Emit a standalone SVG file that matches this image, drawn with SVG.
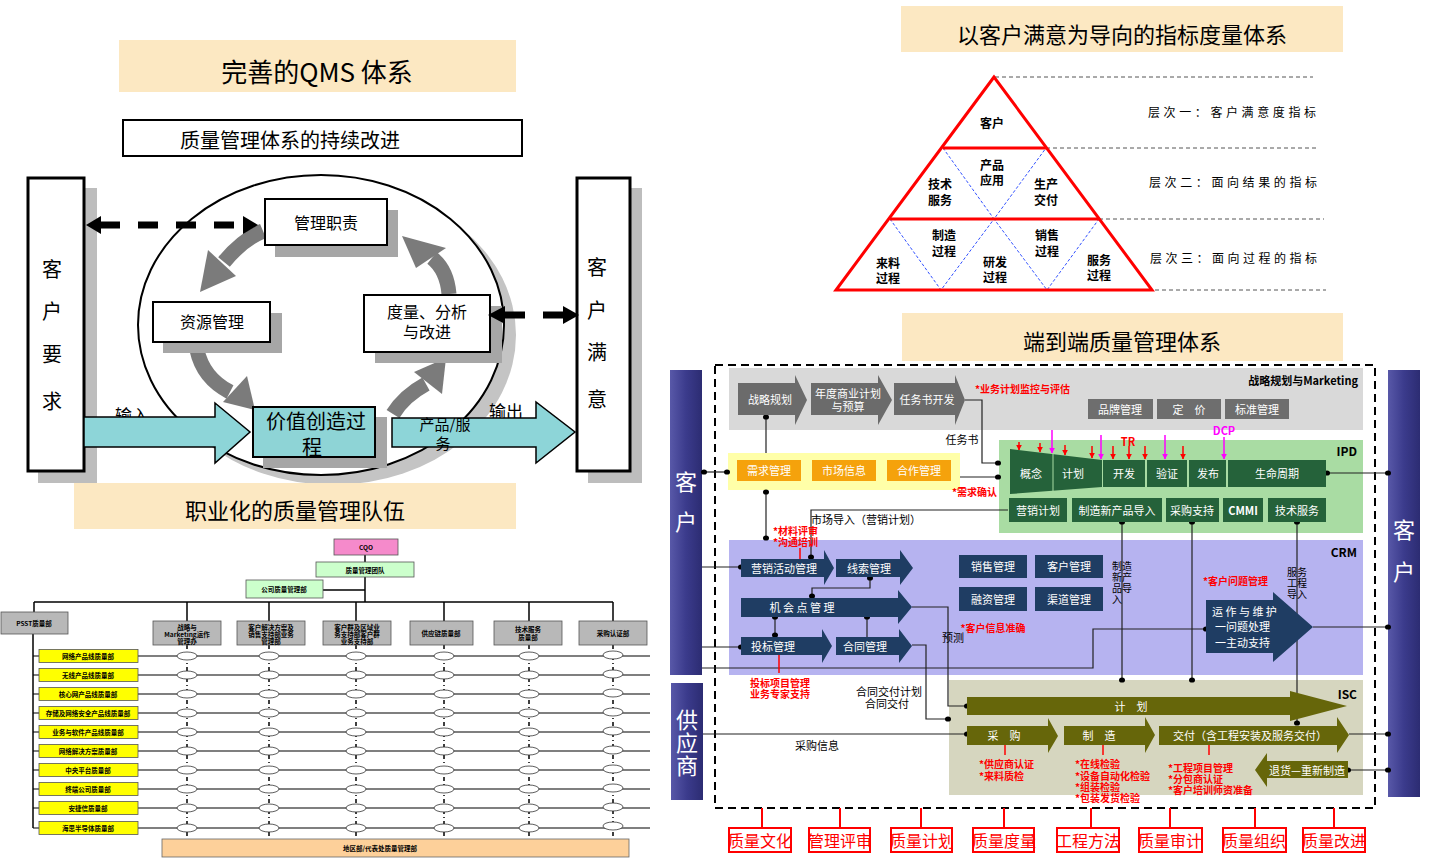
<svg xmlns="http://www.w3.org/2000/svg" width="1431" height="862" viewBox="0 0 1431 862">
<defs>
<style>
text{font-family:"Noto Sans CJK SC","Noto Sans",sans-serif;fill:#000;}
.c{text-anchor:middle;dominant-baseline:central;}
.l{dominant-baseline:central;}
.e{text-anchor:end;dominant-baseline:central;}
.beige{fill:#fce8c2;}
.w{fill:#fff;}
.red{fill:#ff0000;font-weight:bold;font-size:10px;}
.ln{stroke:#222;stroke-width:1.2;fill:none;}
.gch{fill:#6b6b6b;}
.gbx{fill:#6e6e6e;}
.org{fill:#f5a20c;}
.dg{fill:#25623a;}
.nv{fill:#1f3d63;}
.ol{fill:#66660a;}
.yb{fill:#ffff00;stroke:#555;stroke-width:0.8;}
.hb{fill:#b8b8b8;stroke:#555;stroke-width:0.8;}
.ot{font-size:6.5px;font-weight:bold;}
.ht{font-size:6.5px;font-weight:bold;}
.pt{font-size:12px;font-weight:bold;}
.bt{font-size:11px;fill:#fff;}
.vt{font-size:10px;}
.qb{fill:#fff;stroke:#ff0000;stroke-width:2;}
.qt{font-size:16px;fill:#ff0000;}
.shadow{fill:#a6a6a6;}
.carrow{fill:none;stroke:#7b7b7b;stroke-width:15;}
.chead{fill:#7b7b7b;}
</style>
<linearGradient id="bar" x1="0" x2="1" y1="0" y2="0">
<stop offset="0" stop-color="#5858a8"/><stop offset="0.5" stop-color="#3b3b8c"/><stop offset="1" stop-color="#2c2c72"/>
</linearGradient>
<ellipse id="d" rx="3" ry="2.6" fill="#000"/>
<ellipse id="oe" rx="10" ry="4" fill="#fff" stroke="#333" stroke-width="0.8"/>
<marker id="mr" viewBox="0 0 10 10" refX="9" refY="5" markerWidth="4" markerHeight="4" orient="auto"><path d="M0,0 L10,5 L0,10 z" fill="#ff0000"/></marker>
<marker id="mm" viewBox="0 0 10 10" refX="9" refY="5" markerWidth="4" markerHeight="4" orient="auto"><path d="M0,0 L10,5 L0,10 z" fill="#ff00ff"/></marker>
</defs>
<rect width="1431" height="862" fill="#fff"/>

<!-- ================= TOP LEFT: QMS ================= -->
<g id="qms-title"><rect x="119" y="40" width="397" height="52" class="beige"/><text x="317" y="70" class="c" font-size="26">完善的QMS 体系</text></g>
<g id="qms-sub"><rect x="123" y="120" width="399" height="36" fill="#fff" stroke="#000" stroke-width="2"/><text x="290" y="139" class="c" font-size="20">质量管理体系的持续改进</text></g>

<g id="loop-ellipse">
<ellipse cx="333" cy="335" rx="183" ry="150" fill="#c4c4c4"/>
<ellipse cx="321" cy="325" rx="183" ry="150" fill="#fff" stroke="#000" stroke-width="2"/>
</g>

<g id="cust-req">
<rect x="38" y="188" width="59" height="295" fill="#bdbdbd"/>
<rect x="28" y="178" width="56" height="293" fill="#fff" stroke="#000" stroke-width="3"/>
<text x="52" y="268" class="c" font-size="20">客</text><text x="52" y="310" class="c" font-size="20">户</text><text x="52" y="353" class="c" font-size="20">要</text><text x="52" y="400" class="c" font-size="20">求</text>
</g>
<g id="cust-sat">
<rect x="588" y="188" width="54" height="295" fill="#bdbdbd"/>
<rect x="577" y="178" width="53" height="293" fill="#fff" stroke="#000" stroke-width="3"/>
<text x="597" y="266" class="c" font-size="20">客</text><text x="597" y="309" class="c" font-size="20">户</text><text x="597" y="351" class="c" font-size="20">满</text><text x="597" y="398" class="c" font-size="20">意</text>
</g>

<g id="loop-arrows">
<path class="carrow" d="M263,231 Q242,240 224,262"/><polygon class="chead" points="208,250 236,276 200,292"/>
<path class="carrow" d="M197,350 Q203,378 230,392"/><polygon class="chead" points="247,376 223,402 255,410"/>
<path class="carrow" d="M393,414 Q404,396 426,384"/><polygon class="chead" points="442,394 414,372 446,358"/>
<path class="carrow" d="M449,294 Q447,270 432,258"/><polygon class="chead" points="446,248 416,268 402,236"/>
</g>

<g id="mgmt-resp"><rect x="275" y="210" width="123" height="47" class="shadow"/><rect x="265" y="199" width="122" height="46" fill="#fff" stroke="#000" stroke-width="2"/><text x="326" y="222" class="c" font-size="16">管理职责</text></g>
<g id="res-mgmt"><rect x="163" y="313" width="119" height="40" class="shadow"/><rect x="153" y="302" width="117" height="40" fill="#fff" stroke="#000" stroke-width="2"/><text x="212" y="321" class="c" font-size="16">资源管理</text></g>
<g id="measure"><rect x="375" y="306" width="127" height="57" class="shadow"/><rect x="364" y="295" width="126" height="57" fill="#fff" stroke="#000" stroke-width="2"/><text class="c" font-size="16"><tspan x="427" y="311">度量、分析</tspan><tspan x="427" y="331">与改进</tspan></text></g>

<g id="io-arrows">
<text x="132" y="414" class="c" font-size="17">输入</text>
<text x="506" y="410" class="c" font-size="17">输出</text>
<polygon points="84,417 215,417 215,403 250,432 215,463 215,447 84,447" fill="#8dd5d8" stroke="#000" stroke-width="1.5"/>
<polygon points="392,418 536,418 536,402 575,432 536,463 536,447 392,447" fill="#8dd5d8" stroke="#000" stroke-width="1.5"/>
<text class="c" font-size="15"><tspan x="445" y="423">产品/服</tspan><tspan x="443" y="442">务</tspan></text>
</g>
<g id="value-proc"><rect x="263" y="417" width="124" height="51" class="shadow"/><rect x="253" y="407" width="122" height="50" fill="#8ed4d6" stroke="#000" stroke-width="2"/><text class="c" font-size="20"><tspan x="316" y="420">价值创造过</tspan><tspan x="312" y="446">程</tspan></text></g>

<g id="dashed-arrows">
<line x1="100" y1="225" x2="243" y2="225" stroke="#000" stroke-width="7" stroke-dasharray="20 18"/>
<polygon points="86,225 101,216 101,234" fill="#000"/><polygon points="258,225 243,216 243,234" fill="#000"/>
<line x1="505" y1="315" x2="563" y2="315" stroke="#000" stroke-width="7" stroke-dasharray="20 18"/>
<polygon points="488,315 505,306 505,324" fill="#000"/><polygon points="579,315 563,306 563,324" fill="#000"/>
</g>

<g id="team-title"><rect x="74" y="483" width="442" height="46" class="beige"/><text x="295" y="509" class="c" font-size="22">职业化的质量管理队伍</text></g>

<!-- ================= BOTTOM LEFT: ORG CHART ================= -->
<g id="org-lines" stroke="#000" fill="none">
<line x1="365" y1="555" x2="365" y2="562" stroke-width="1.5"/>
<line x1="365" y1="577" x2="365" y2="602" stroke-width="1.5"/>
<line x1="323" y1="590" x2="365" y2="590" stroke-width="1.5"/>
<line x1="34" y1="602" x2="613" y2="602" stroke-width="1.5"/>
<line x1="34" y1="602" x2="34" y2="612" stroke-width="1.5"/>
<line x1="187" y1="602" x2="187" y2="621" stroke-width="1.5"/>
<line x1="269" y1="602" x2="269" y2="621" stroke-width="1.5"/>
<line x1="356" y1="602" x2="356" y2="621" stroke-width="1.5"/>
<line x1="444" y1="602" x2="444" y2="621" stroke-width="1.5"/>
<line x1="529" y1="602" x2="529" y2="621" stroke-width="1.5"/>
<line x1="613" y1="602" x2="613" y2="621" stroke-width="1.5"/>
<line x1="33" y1="634" x2="33" y2="828" stroke-width="1.5"/>
<g stroke-width="1.2">
<line x1="33" y1="656" x2="650" y2="656"/><line x1="33" y1="675" x2="650" y2="675"/><line x1="33" y1="694" x2="650" y2="694"/><line x1="33" y1="713" x2="650" y2="713"/><line x1="33" y1="732" x2="650" y2="732"/>
<line x1="33" y1="751" x2="650" y2="751"/><line x1="33" y1="770" x2="650" y2="770"/><line x1="33" y1="789" x2="650" y2="789"/><line x1="33" y1="808" x2="650" y2="808"/><line x1="33" y1="828" x2="650" y2="828"/>
</g>
<g stroke-width="1.5" stroke-dasharray="4 3 1 3">
<line x1="187" y1="645" x2="187" y2="838"/><line x1="269" y1="645" x2="269" y2="838"/><line x1="356" y1="645" x2="356" y2="838"/><line x1="444" y1="645" x2="444" y2="838"/><line x1="529" y1="645" x2="529" y2="838"/><line x1="613" y1="645" x2="613" y2="838"/>
</g>
</g>
<g id="org-ellipses">
<use href="#oe" x="187" y="656"/><use href="#oe" x="187" y="675"/><use href="#oe" x="187" y="694"/><use href="#oe" x="187" y="713"/><use href="#oe" x="187" y="732"/><use href="#oe" x="187" y="751"/><use href="#oe" x="187" y="770"/><use href="#oe" x="187" y="789"/><use href="#oe" x="187" y="808"/><use href="#oe" x="187" y="828"/>
<use href="#oe" x="269" y="656"/><use href="#oe" x="269" y="675"/><use href="#oe" x="269" y="694"/><use href="#oe" x="269" y="713"/><use href="#oe" x="269" y="732"/><use href="#oe" x="269" y="751"/><use href="#oe" x="269" y="770"/><use href="#oe" x="269" y="789"/><use href="#oe" x="269" y="808"/><use href="#oe" x="269" y="828"/>
<use href="#oe" x="356" y="656"/><use href="#oe" x="356" y="675"/><use href="#oe" x="356" y="694"/><use href="#oe" x="356" y="713"/><use href="#oe" x="356" y="732"/><use href="#oe" x="356" y="751"/><use href="#oe" x="356" y="770"/><use href="#oe" x="356" y="789"/><use href="#oe" x="356" y="808"/><use href="#oe" x="356" y="828"/>
<use href="#oe" x="444" y="656"/><use href="#oe" x="444" y="675"/><use href="#oe" x="444" y="694"/><use href="#oe" x="444" y="713"/><use href="#oe" x="444" y="732"/><use href="#oe" x="444" y="751"/><use href="#oe" x="444" y="770"/><use href="#oe" x="444" y="789"/><use href="#oe" x="444" y="808"/><use href="#oe" x="444" y="828"/>
<use href="#oe" x="529" y="656"/><use href="#oe" x="529" y="675"/><use href="#oe" x="529" y="694"/><use href="#oe" x="529" y="713"/><use href="#oe" x="529" y="732"/><use href="#oe" x="529" y="751"/><use href="#oe" x="529" y="770"/><use href="#oe" x="529" y="789"/><use href="#oe" x="529" y="808"/><use href="#oe" x="529" y="828"/>
<use href="#oe" x="613" y="655"/><use href="#oe" x="613" y="674"/><use href="#oe" x="613" y="693"/><use href="#oe" x="613" y="712"/><use href="#oe" x="613" y="731"/><use href="#oe" x="613" y="750"/><use href="#oe" x="613" y="769"/><use href="#oe" x="613" y="788"/><use href="#oe" x="613" y="807"/><use href="#oe" x="613" y="826"/>
</g>
<g id="cqo"><rect x="334" y="539" width="64" height="16" fill="#f58acb" stroke="#555" stroke-width="0.8"/><text x="366" y="547" class="c ot" font-size="7px">CQO</text></g>
<g id="qm-team"><rect x="316" y="562" width="98" height="15" fill="#ccffcc" stroke="#555" stroke-width="0.8"/><text x="365" y="570" class="c ot">质量管理团队</text></g>
<g id="corp-qm"><rect x="246" y="580" width="77" height="18" fill="#ccffcc" stroke="#555" stroke-width="0.8"/><text x="284" y="589" class="c ot">公司质量管理部</text></g>
<g id="psst"><rect x="1" y="612" width="67" height="22" class="hb"/><text x="34" y="623" class="c ot">PSST质量部</text></g>
<g id="h1"><rect x="153" y="621" width="68" height="24" class="hb"/><text class="c ht"><tspan x="187" y="626.5">战略与</tspan><tspan x="187" y="633.5">Marketing运作</tspan><tspan x="187" y="640.5">管理办</tspan></text></g>
<g id="h2"><rect x="237" y="621" width="68" height="24" class="hb"/><text class="c ht"><tspan x="271" y="626.5">客户解决方案及</tspan><tspan x="271" y="633.5">销售支持部业务</tspan><tspan x="271" y="640.5">管理部</tspan></text></g>
<g id="h3"><rect x="323" y="621" width="68" height="24" class="hb"/><text class="c ht"><tspan x="357" y="626.5">客户群及区域业</tspan><tspan x="357" y="633.5">务支持部客户群</tspan><tspan x="357" y="640.5">业务支持部</tspan></text></g>
<g id="h4"><rect x="410" y="621" width="63" height="24" class="hb"/><text x="441" y="633" class="c ht">供应链质量部</text></g>
<g id="h5"><rect x="494" y="621" width="68" height="24" class="hb"/><text class="c ht"><tspan x="528" y="629">技术服务</tspan><tspan x="528" y="637">质量部</tspan></text></g>
<g id="h6"><rect x="579" y="621" width="68" height="24" class="hb"/><text x="613" y="633" class="c ht">采购认证部</text></g>
<g id="y1"><rect x="39" y="649.5" width="99" height="13" class="yb"/><text x="88" y="656" class="c ot">网络产品线质量部</text></g>
<g id="y2"><rect x="39" y="668.5" width="99" height="13" class="yb"/><text x="88" y="675" class="c ot">无线产品线质量部</text></g>
<g id="y3"><rect x="39" y="687.5" width="99" height="13" class="yb"/><text x="88" y="694" class="c ot">核心网产品线质量部</text></g>
<g id="y4"><rect x="39" y="706.5" width="99" height="13" class="yb"/><text x="88" y="713" class="c ot">存储及网络安全产品线质量部</text></g>
<g id="y5"><rect x="39" y="725.5" width="99" height="13" class="yb"/><text x="88" y="732" class="c ot">业务与软件产品线质量部</text></g>
<g id="y6"><rect x="39" y="744.5" width="99" height="13" class="yb"/><text x="88" y="751" class="c ot">网络解决方案质量部</text></g>
<g id="y7"><rect x="39" y="763.5" width="99" height="13" class="yb"/><text x="88" y="770" class="c ot">中央平台质量部</text></g>
<g id="y8"><rect x="39" y="782.5" width="99" height="13" class="yb"/><text x="88" y="789" class="c ot">终端公司质量部</text></g>
<g id="y9"><rect x="39" y="801.5" width="99" height="13" class="yb"/><text x="88" y="808" class="c ot">安捷信质量部</text></g>
<g id="y10"><rect x="39" y="821.5" width="99" height="13" class="yb"/><text x="88" y="828" class="c ot">海思半导体质量部</text></g>
<g id="region-qm"><rect x="162" y="839" width="467" height="18" fill="#fdd09a" stroke="#666" stroke-width="0.8"/><text x="343" y="848" class="l ot">地区部/代表处质量管理部</text></g>

<!-- ================= TOP RIGHT: PYRAMID ================= -->
<g id="pyr-title"><rect x="901" y="6" width="442" height="46" class="beige"/><text x="1122" y="33" class="c" font-size="22">以客户满意为导向的指标度量体系</text></g>
<g id="pyr-lines" fill="none">
<g stroke="#555" stroke-width="1" stroke-dasharray="4 3">
<line x1="995" y1="77" x2="1313" y2="77"/><line x1="1046" y1="148" x2="1319" y2="148"/><line x1="1057" y1="219" x2="1324" y2="219"/><line x1="1057" y1="290" x2="1326" y2="290"/>
</g>
<g stroke="#3050ff" stroke-width="1" stroke-dasharray="3 2">
<polyline points="943,148 994,219 1046,148"/>
<polyline points="890,219 941,290 994,219 1047,290 1099,219"/>
</g>
</g>
<g id="pyramid">
<polygon points="994,77 836,290 1152,290" fill="none" stroke="#ff0000" stroke-width="3"/>
<line x1="943" y1="148" x2="1046" y2="148" stroke="#ff0000" stroke-width="3"/>
<line x1="890" y1="219" x2="1099" y2="219" stroke="#ff0000" stroke-width="3"/>
<text x="992" y="122" class="c pt">客户</text>
<text class="c pt"><tspan x="992" y="164">产品</tspan><tspan x="992" y="179">应用</tspan></text>
<text class="c pt"><tspan x="940" y="183">技术</tspan><tspan x="940" y="199">服务</tspan></text>
<text class="c pt"><tspan x="1046" y="183">生产</tspan><tspan x="1046" y="199">交付</tspan></text>
<text class="c pt"><tspan x="944" y="234">制造</tspan><tspan x="944" y="250">过程</tspan></text>
<text class="c pt"><tspan x="1047" y="234">销售</tspan><tspan x="1047" y="250">过程</tspan></text>
<text class="c pt"><tspan x="888" y="262">来料</tspan><tspan x="888" y="277">过程</tspan></text>
<text class="c pt"><tspan x="995" y="261">研发</tspan><tspan x="995" y="276">过程</tspan></text>
<text class="c pt"><tspan x="1099" y="259">服务</tspan><tspan x="1099" y="274">过程</tspan></text>
</g>
<g id="pyr-labels">
<text x="1148" y="111" class="l" font-size="12" textLength="168" lengthAdjust="spacing">层次一：客户满意度指标</text>
<text x="1149" y="181" class="l" font-size="12" textLength="168" lengthAdjust="spacing">层次二：面向结果的指标</text>
<text x="1150" y="257" class="l" font-size="12" textLength="167" lengthAdjust="spacing">层次三：面向过程的指标</text>
</g>

<!-- ================= RIGHT: END TO END ================= -->
<g id="e2e-title"><rect x="902" y="313" width="441" height="48" class="beige"/><text x="1122" y="340" class="c" font-size="22">端到端质量管理体系</text></g>

<g id="bands">
<rect x="715" y="365" width="660" height="443" fill="none" stroke="#000" stroke-width="2" stroke-dasharray="8 5"/>
<rect x="729" y="368" width="634" height="62" fill="#d9d9d9"/>
<rect x="728" y="453" width="232" height="37" fill="#ffffa8"/>
<rect x="999" y="440" width="364" height="93" fill="#a9dca3"/>
<rect x="729" y="540" width="634" height="135" fill="#b6b3f0"/>
<rect x="949" y="680" width="414" height="115" fill="#d6d6bf"/>
<text x="1358" y="380" class="e" font-size="11" font-weight="bold">战略规划与Marketing</text>
<text x="1357" y="450" class="e" font-size="12" font-weight="bold" font-family="Liberation Sans">IPD</text>
<text x="1357" y="551" class="e" font-size="12" font-weight="bold" font-family="Liberation Sans">CRM</text>
<text x="1357" y="693" class="e" font-size="12" font-weight="bold" font-family="Liberation Sans">ISC</text>
</g>

<g id="bar-cust-l"><rect x="670" y="370" width="32" height="305" fill="url(#bar)"/><text x="686" y="480" class="c w" font-size="22">客</text><text x="686" y="520" class="c w" font-size="22">户</text></g>
<g id="bar-supp"><rect x="671" y="683" width="32" height="117" fill="url(#bar)"/><text class="c w" font-size="22"><tspan x="687" y="718">供</tspan><tspan x="687" y="741">应</tspan><tspan x="687" y="764">商</tspan></text></g>
<g id="bar-cust-r"><rect x="1388" y="370" width="32" height="427" fill="url(#bar)"/><text x="1404" y="528" class="c w" font-size="22">客</text><text x="1404" y="570" class="c w" font-size="22">户</text></g>

<g id="connectors">
<g class="ln">
<polyline points="766,417 766,453"/>
<polyline points="965,400 982,400 982,463 998,463"/>
<polyline points="960,477 998,477"/>
<polyline points="702,472 728,472"/>
<polyline points="766,492 766,538"/>
<polyline points="1008,510 811,510 811,557"/>
<polyline points="1326,473 1388,473"/>
<polyline points="1122,522 1122,680"/>
<polyline points="1192,522 1192,680"/>
<polyline points="1297,522 1297,723"/>
<polyline points="702,567 741,567"/>
<polyline points="702,647 741,647"/>
<polyline points="702,668 1093,668 1093,629 1206,629"/>
<polyline points="870,578 870,588 812,588 812,596"/>
<polyline points="775,617 775,635"/>
<polyline points="867,617 867,637"/>
<polyline points="912,607 948,607 948,706 967,706"/>
<polyline points="912,645 926,645 926,719 948,719"/>
<polyline points="1313,627 1388,627"/>
<polyline points="703,734 967,734"/>
<polyline points="1349,734 1388,734"/>
<polyline points="1348,770 1388,770"/>
</g>
<g>
<use href="#d" x="766" y="417"/><use href="#d" x="998" y="463"/><use href="#d" x="998" y="477"/><use href="#d" x="704" y="472"/><use href="#d" x="727" y="472"/>
<use href="#d" x="766" y="492"/><use href="#d" x="766" y="538"/><use href="#d" x="811" y="557"/>
<use href="#d" x="1327" y="473"/><use href="#d" x="1388" y="473"/>
<use href="#d" x="1122" y="522"/><use href="#d" x="1122" y="680"/><use href="#d" x="1192" y="522"/><use href="#d" x="1192" y="680"/><use href="#d" x="1297" y="522"/><use href="#d" x="1297" y="723"/>
<use href="#d" x="741" y="567"/><use href="#d" x="741" y="647"/><use href="#d" x="1206" y="629"/>
<use href="#d" x="870" y="578"/><use href="#d" x="812" y="596"/><use href="#d" x="775" y="617"/><use href="#d" x="775" y="635"/><use href="#d" x="867" y="617"/>
<use href="#d" x="967" y="706"/><use href="#d" x="948" y="719"/><use href="#d" x="1388" y="627"/>
<use href="#d" x="967" y="734"/><use href="#d" x="1388" y="734"/><use href="#d" x="1348" y="770"/><use href="#d" x="1388" y="770"/>
</g>
<g stroke="#ff0000" stroke-width="1.5">
<line x1="800" y1="548" x2="800" y2="559"/><line x1="779" y1="655" x2="779" y2="673"/>
<line x1="1005" y1="745" x2="1005" y2="755"/><line x1="1103" y1="745" x2="1103" y2="755"/><line x1="1209" y1="745" x2="1209" y2="755"/>
</g>
<g stroke="#ff0000" stroke-width="1.5" marker-end="url(#mr)">
<line x1="1019" y1="442" x2="1019" y2="450"/><line x1="1040" y1="443" x2="1040" y2="452"/><line x1="1065" y1="445" x2="1065" y2="455"/><line x1="1092" y1="446" x2="1092" y2="458"/>
<line x1="1113" y1="446" x2="1113" y2="459"/><line x1="1129" y1="446" x2="1129" y2="459"/><line x1="1145" y1="446" x2="1145" y2="459"/><line x1="1183" y1="446" x2="1183" y2="459"/>
</g>
<g stroke="#ff00ff" stroke-width="1.5" marker-end="url(#mm)">
<line x1="1052" y1="430" x2="1052" y2="453"/><line x1="1101" y1="435" x2="1101" y2="459"/><line x1="1165" y1="435" x2="1165" y2="459"/><line x1="1224" y1="437" x2="1224" y2="459"/>
</g>
<g stroke="#ff0000" stroke-width="2">
<line x1="762" y1="808" x2="762" y2="828"/><line x1="840" y1="808" x2="840" y2="828"/><line x1="921" y1="808" x2="921" y2="828"/><line x1="1004" y1="808" x2="1004" y2="828"/>
<line x1="1091" y1="808" x2="1091" y2="828"/><line x1="1170" y1="808" x2="1170" y2="828"/><line x1="1255" y1="808" x2="1255" y2="828"/><line x1="1334" y1="808" x2="1334" y2="828"/>
</g>
</g>

<g id="strategy">
<polygon class="gch" points="738,383 795,383 795,375 807,400 795,425 795,415 738,415"/><text x="770" y="399" class="c bt">战略规划</text>
<polygon class="gch" points="811,383 878,383 878,375 892,400 878,425 878,415 811,415"/><text class="c bt"><tspan x="848" y="393">年度商业计划</tspan><tspan x="848" y="406">与预算</tspan></text>
<polygon class="gch" points="894,383 955,383 955,375 965,400 955,425 955,415 894,415"/><text x="927" y="399" class="c bt">任务书开发</text>
<text x="975" y="388" class="l red">*业务计划监控与评估</text>
<rect x="1088" y="399" width="65" height="20" class="gbx"/><text x="1120" y="409" class="c bt">品牌管理</text>
<rect x="1157" y="399" width="64" height="20" class="gbx"/><text x="1189" y="409" class="c bt">定　价</text>
<rect x="1225" y="399" width="64" height="20" class="gbx"/><text x="1257" y="409" class="c bt">标准管理</text>
</g>

<g id="demand">
<rect x="737" y="460" width="64" height="21" class="org"/><text x="769" y="470" class="c bt">需求管理</text>
<rect x="812" y="460" width="64" height="21" class="org"/><text x="844" y="470" class="c bt">市场信息</text>
<rect x="887" y="460" width="64" height="21" class="org"/><text x="919" y="470" class="c bt">合作管理</text>
<text x="962" y="439" class="c" font-size="11">任务书</text>
<text x="952" y="491" class="l red">*需求确认</text>
<text class="l red"><tspan x="773" y="530">*材料评审</tspan><tspan x="773" y="541">*沟通培训</tspan></text>
<text x="866" y="519" class="c" font-size="11">市场导入（营销计划）</text>
</g>

<g id="ipd">
<polygon class="dg" points="1010,449 1102,460 1102,487 1010,494"/>
<line x1="1053" y1="453" x2="1053" y2="491" stroke="#a9dca3" stroke-width="1"/>
<text x="1031" y="473" class="c bt">概念</text><text x="1073" y="473" class="c bt">计划</text>
<rect x="1103" y="460" width="42" height="27" class="dg"/><text x="1124" y="473" class="c bt">开发</text>
<rect x="1147" y="460" width="40" height="27" class="dg"/><text x="1167" y="473" class="c bt">验证</text>
<rect x="1189" y="460" width="37" height="27" class="dg"/><text x="1208" y="473" class="c bt">发布</text>
<rect x="1228" y="460" width="98" height="27" class="dg"/><text x="1277" y="473" class="c bt">生命周期</text>
<rect x="1009" y="498" width="58" height="24" class="dg"/><text x="1038" y="510" class="c bt">营销计划</text>
<rect x="1072" y="498" width="90" height="24" class="dg"/><text x="1117" y="510" class="c bt">制造新产品导入</text>
<rect x="1166" y="498" width="53" height="24" class="dg"/><text x="1192" y="510" class="c bt">采购支持</text>
<rect x="1223" y="498" width="40" height="24" class="dg"/><text x="1243" y="510" class="c bt" font-family="Liberation Sans" font-weight="bold">CMMI</text>
<rect x="1268" y="498" width="58" height="24" class="dg"/><text x="1297" y="510" class="c bt">技术服务</text>
<text x="1128" y="441" class="c" font-size="11" font-weight="bold" font-family="Liberation Sans" style="fill:#ff0000">TR</text>
<text x="1224" y="430" class="c" font-size="11" font-weight="bold" font-family="Liberation Sans" style="fill:#ff00ff">DCP</text>
</g>

<g id="crm">
<polygon class="nv" points="741,559 824,559 824,550 834,568 824,585 824,577 741,577"/><text x="784" y="568" class="c bt">营销活动管理</text>
<polygon class="nv" points="836,559 900,559 900,550 913,568 900,585 900,577 836,577"/><text x="869" y="568" class="c bt">线索管理</text>
<polygon class="nv" points="741,598 898,598 898,590 912,607 898,624 898,617 741,617"/><text x="802" y="607" class="c bt">机 会 点 管 理</text>
<polygon class="nv" points="741,637 822,637 822,629 832,646 822,663 822,655 741,655"/><text x="773" y="646" class="c bt">投标管理</text>
<polygon class="nv" points="836,637 899,637 899,629 912,646 899,663 899,655 836,655"/><text x="865" y="646" class="c bt">合同管理</text>
<rect x="959" y="555" width="68" height="23" class="nv"/><text x="993" y="566" class="c bt">销售管理</text>
<rect x="1035" y="555" width="68" height="23" class="nv"/><text x="1069" y="566" class="c bt">客户管理</text>
<rect x="959" y="587" width="68" height="24" class="nv"/><text x="993" y="599" class="c bt">融资管理</text>
<rect x="1035" y="587" width="68" height="24" class="nv"/><text x="1069" y="599" class="c bt">渠道管理</text>
<text class="l vt"><tspan x="1112" y="565">制造</tspan><tspan x="1112" y="576">新产</tspan><tspan x="1112" y="587">品导</tspan><tspan x="1112" y="598">入</tspan></text>
<text class="l vt"><tspan x="1287" y="571">服务</tspan><tspan x="1287" y="582">工程</tspan><tspan x="1287" y="593">导入</tspan></text>
<text x="1203" y="580" class="l red">*客户问题管理</text>
<text x="993" y="627" class="c red">*客户信息准确</text>
<text x="953" y="637" class="c" font-size="11">预测</text>
<polygon class="nv" points="1206,600 1273,600 1273,592 1313,627 1273,662 1273,653 1206,653"/>
<text class="l bt"><tspan x="1212" y="611">运 作 与 维 护</tspan><tspan x="1215" y="626">一问题处理</tspan><tspan x="1215" y="642">一主动支持</tspan></text>
<text class="c red"><tspan x="780" y="682">投标项目管理</tspan><tspan x="780" y="693">业务专家支持</tspan></text>
<text class="c" font-size="11"><tspan x="889" y="691">合同交付计划</tspan><tspan x="887" y="703">合同交付</tspan></text>
</g>

<g id="isc">
<polygon class="ol" points="967,697 1290,697 1290,691 1347,706 1290,721 1290,715 967,715"/><text x="1131" y="706" class="c bt">计　划</text>
<polygon class="ol" points="967,726 1048,726 1048,718 1058,736 1048,753 1048,745 967,745"/><text x="1004" y="735" class="c bt">采　购</text>
<polygon class="ol" points="1064,726 1145,726 1145,717 1155,735 1145,753 1145,745 1064,745"/><text x="1099" y="735" class="c bt">制　造</text>
<polygon class="ol" points="1159,726 1337,726 1337,717 1349,735 1337,753 1337,745 1159,745"/><text x="1250" y="735" class="c bt">交付（含工程安装及服务交付）</text>
<polygon class="ol" points="1348,761 1267,761 1267,753 1255,770 1267,787 1267,778 1348,778"/><text x="1307" y="770" class="c bt">退货—重新制造</text>
<text x="817" y="745" class="c" font-size="11">采购信息</text>
<text class="l red"><tspan x="979" y="763">*供应商认证</tspan><tspan x="979" y="775">*来料质检</tspan></text>
<text class="l red"><tspan x="1075" y="763">*在线检验</tspan><tspan x="1075" y="775">*设备自动化检验</tspan><tspan x="1075" y="786">*组装检验</tspan><tspan x="1075" y="797">*包装发货检验</tspan></text>
<text class="l red"><tspan x="1168" y="767">*工程项目管理</tspan><tspan x="1168" y="778">*分包商认证</tspan><tspan x="1168" y="789">*客户培训师资准备</tspan></text>
</g>

<g id="q1"><rect x="729" y="828" width="62" height="24" class="qb"/><text x="760" y="840" class="c qt">质量文化</text></g>
<g id="q2"><rect x="809" y="828" width="61" height="24" class="qb"/><text x="840" y="840" class="c qt">管理评审</text></g>
<g id="q3"><rect x="891" y="828" width="61" height="24" class="qb"/><text x="922" y="840" class="c qt">质量计划</text></g>
<g id="q4"><rect x="973" y="828" width="61" height="24" class="qb"/><text x="1004" y="840" class="c qt">质量度量</text></g>
<g id="q5"><rect x="1057" y="828" width="62" height="24" class="qb"/><text x="1088" y="840" class="c qt">工程方法</text></g>
<g id="q6"><rect x="1139" y="828" width="63" height="24" class="qb"/><text x="1170" y="840" class="c qt">质量审计</text></g>
<g id="q7"><rect x="1223" y="828" width="63" height="24" class="qb"/><text x="1254" y="840" class="c qt">质量组织</text></g>
<g id="q8"><rect x="1303" y="828" width="62" height="24" class="qb"/><text x="1334" y="840" class="c qt">质量改进</text></g>
</svg>
